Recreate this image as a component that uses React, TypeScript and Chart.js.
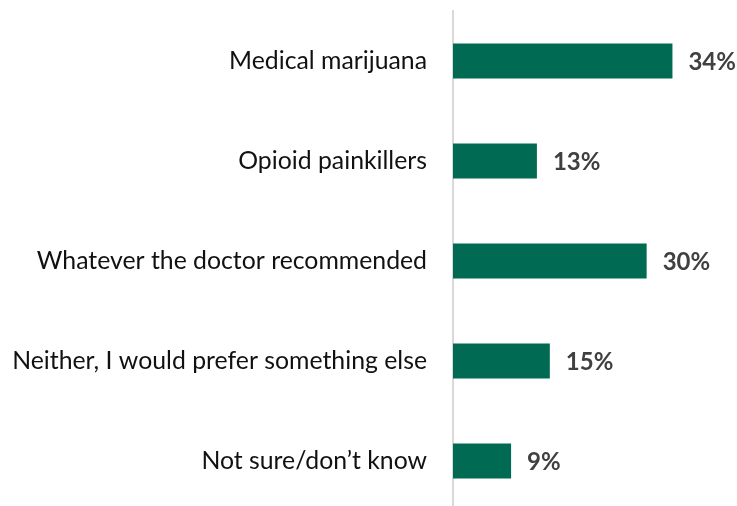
import React, { useEffect, useRef } from "react";
import { Chart, registerables } from "chart.js";

Chart.register(...registerables);

const categories = [
  "Medical marijuana",
  "Opioid painkillers",
  "Whatever the doctor recommended",
  "Neither, I would prefer something else",
  "Not sure/don\u2019t know",
];
const values = [34, 13, 30, 15, 9];
const valueLabels = ["34%", "13%", "30%", "15%", "9%"];

const valueLabelPlugin = {
  id: "valueLabels",
  afterDatasetsDraw(chart: any) {
    const ctx = chart.ctx;
    const meta = chart.getDatasetMeta(0);
    ctx.save();
    ctx.font = "bold 24px Lato";
    ctx.fillStyle = "#404040";
    ctx.textAlign = "left";
    ctx.textBaseline = "middle";
    meta.data.forEach((bar: any, i: number) => {
      ctx.fillText(valueLabels[i], bar.x + 16, bar.y + 1);
    });
    ctx.restore();
  },
};

export default function App() {
  const ref = useRef<HTMLCanvasElement>(null);
  useEffect(() => {
    document.body.style.margin = "0";
    const chart = new Chart(ref.current as HTMLCanvasElement, {
      type: "bar",
      data: {
        labels: categories,
        datasets: [
          {
            data: values,
            backgroundColor: "#006A52",
            barPercentage: 0.35,
            categoryPercentage: 1,
          },
        ],
      },
      options: {
        indexAxis: "y",
        animation: false,
        responsive: true,
        maintainAspectRatio: false,
        layout: { padding: { top: 11, right: 0, bottom: 0, left: 0 } },
        plugins: { legend: { display: false }, tooltip: { enabled: false } },
        scales: {
          x: { display: false, min: 0, max: 44 },
          y: {
            grid: { display: false, drawTicks: false },
            border: { display: true, color: "#D9D9D9", width: 2 },
            ticks: {
              color: "#111111",
              padding: 26,
              font: { family: "Lato", size: 24.8 },
            },
            afterFit(scale: any) {
              scale.width = 453;
              scale.paddingTop = 0;
              scale.paddingBottom = 0;
            },
          },
        },
      },
      plugins: [valueLabelPlugin],
    });
    return () => chart.destroy();
  }, []);
  return (
    <div style={{ width: 737, height: 506, overflow: "hidden", position: "relative" }}>
      <div style={{ width: 737, height: 511, position: "relative" }}>
        <canvas ref={ref} />
      </div>
    </div>
  );
}
